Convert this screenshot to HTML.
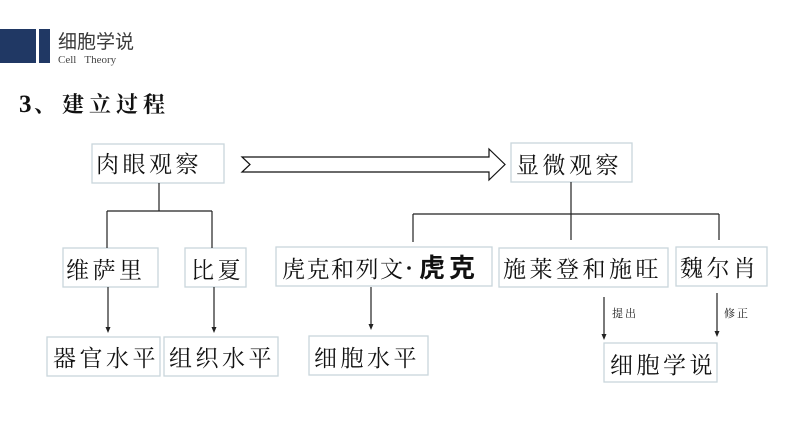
<!DOCTYPE html>
<html><head><meta charset="utf-8">
<style>
html,body{margin:0;padding:0;background:#fff;}
svg{display:block;}
.k{font-family:"Liberation Serif","Noto Serif CJK SC",serif;font-size:23px;fill:#111;letter-spacing:3.5px;}
</style></head>
<body>
<svg width="794" height="447" viewBox="0 0 794 447" xmlns="http://www.w3.org/2000/svg">
<rect width="794" height="447" fill="#fff"/>
<!-- header -->
<rect x="0" y="29" width="36" height="34" fill="#203864"/>
<rect x="39" y="29" width="11" height="34" fill="#203864"/>
<text x="58" y="48" font-family="'Liberation Sans','Noto Sans CJK SC',sans-serif" font-size="19" fill="#3a3a3a">细胞学说</text>
<text x="58" y="63" font-family="'Liberation Serif',serif" font-size="11" fill="#444" xml:space="preserve">Cell   Theory</text>
<text x="19" y="112" font-family="'Liberation Serif',serif" font-size="25" font-weight="bold" fill="#111">3</text>
<text x="34" y="112" font-family="'Liberation Serif','Noto Serif CJK SC',serif" font-size="22" font-weight="bold" fill="#111">、</text>
<text x="62" y="112" font-family="'Liberation Serif','Noto Serif CJK SC',serif" font-size="22" font-weight="bold" fill="#111" letter-spacing="5">建立过程</text>

<g fill="#fff" stroke="#c9d6dc" stroke-width="1.3">
<rect x="92" y="144" width="132" height="39"/>
<rect x="511" y="143" width="121" height="39"/>
<rect x="63" y="248" width="95" height="39"/>
<rect x="185" y="248" width="61" height="39"/>
<rect x="276" y="247" width="216" height="39"/>
<rect x="499" y="248" width="169" height="39"/>
<rect x="676" y="247" width="91" height="39"/>
<rect x="47" y="337" width="113" height="39"/>
<rect x="164" y="337" width="114" height="39"/>
<rect x="309" y="336" width="119" height="39"/>
<rect x="604" y="343" width="113" height="39"/>
</g>

<!-- big arrow -->
<polygon points="242,157 489,157 489,149 505,164.5 489,180 489,172 242,172 250,164.5" fill="#fff" stroke="#111" stroke-width="1.2"/>

<g stroke="#222" stroke-width="1.2" fill="none">
<line x1="159" y1="183" x2="159" y2="211"/>
<line x1="107" y1="211" x2="212" y2="211"/>
<line x1="107" y1="211" x2="107" y2="248"/>
<line x1="212" y1="211" x2="212" y2="248"/>
<line x1="571" y1="182" x2="571" y2="240"/>
<line x1="413" y1="214" x2="719" y2="214"/>
<line x1="413" y1="214" x2="413" y2="242"/>
<line x1="719" y1="214" x2="719" y2="240"/>
<line x1="108" y1="287" x2="108" y2="328"/>
<line x1="214" y1="287" x2="214" y2="328"/>
<line x1="371" y1="287" x2="371" y2="325"/>
<line x1="604" y1="297" x2="604" y2="335"/>
<line x1="717" y1="293" x2="717" y2="332"/>
</g>
<g fill="#222">
<polygon points="105.5,327 110.5,327 108,333"/>
<polygon points="211.5,327 216.5,327 214,333"/>
<polygon points="368.5,324 373.5,324 371,330"/>
<polygon points="601.5,334 606.5,334 604,340"/>
<polygon points="714.5,331 719.5,331 717,337"/>
</g>

<text class="k" x="96" y="172">肉眼观察</text>
<text class="k" x="516" y="173">显微观察</text>
<text class="k" x="66" y="278">维萨里</text>
<text class="k" x="191" y="278">比夏</text>
<text class="k" x="282" y="277" style="letter-spacing:1.5px">虎克和列文</text>
<circle cx="409" cy="268" r="1.8" fill="#111"/>
<text x="419" y="277" font-family="'Liberation Sans','Noto Sans CJK SC',sans-serif" font-size="26" font-weight="bold" fill="#111" letter-spacing="4">虎克</text>
<text class="k" x="503" y="277">施莱登和施旺</text>
<text class="k" x="680" y="276">魏尔肖</text>
<text class="k" x="53" y="366">器官水平</text>
<text class="k" x="169" y="366">组织水平</text>
<text class="k" x="314" y="366">细胞水平</text>
<text class="k" x="610" y="373">细胞学说</text>
<text x="612" y="317" font-family="'Liberation Serif','Noto Serif CJK SC',serif" font-size="11" fill="#222" letter-spacing="2">提出</text>
<text x="724" y="317" font-family="'Liberation Serif','Noto Serif CJK SC',serif" font-size="11" fill="#222" letter-spacing="2">修正</text>
</svg>
</body></html>
